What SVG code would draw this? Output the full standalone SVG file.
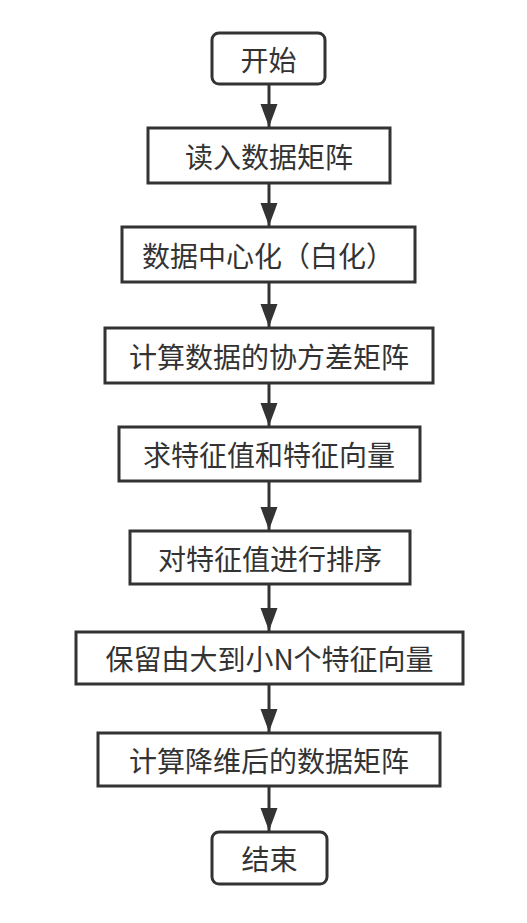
<svg xmlns="http://www.w3.org/2000/svg" width="527" height="923" viewBox="0 0 527 923">
<style>
.box{fill:#fff;stroke:#333;stroke-width:3}
.t{font-family:"Noto Sans CJK SC","Liberation Sans",sans-serif;font-size:28px;fill:#333;text-anchor:middle;dominant-baseline:central}
.c{stroke:#333;stroke-width:3;fill:none;marker-end:url(#ah)}
</style>
<defs>
<marker id="ah" markerUnits="userSpaceOnUse" markerWidth="24" markerHeight="20" viewBox="0 0 24 20" refX="23" refY="10" orient="auto">
<path d="M0,1.5 L23,10 L0,18.5 Z" fill="#333"/>
</marker>
</defs>
<rect width="527" height="923" fill="#fff"/>
<g id="start"><rect class="box" x="212" y="33" width="113" height="51" rx="7"/><text class="t" x="268.5" y="58.5">开始</text></g>
<g id="n1"><rect class="box" x="148" y="128" width="242" height="55"/><text class="t" x="269" y="155.5">读入数据矩阵</text></g>
<g id="n2"><rect class="box" x="122" y="227" width="293" height="55"/><text class="t" x="268" y="254.5">数据中心化（白化）</text></g>
<g id="n3"><rect class="box" x="105" y="328" width="328" height="55"/><text class="t" x="269" y="355.5">计算数据的协方差矩阵</text></g>
<g id="n4"><rect class="box" x="119" y="427" width="301" height="54"/><text class="t" x="269" y="454">求特征值和特征向量</text></g>
<g id="n5"><rect class="box" x="130" y="531" width="280" height="53"/><text class="t" x="270" y="557.5">对特征值进行排序</text></g>
<g id="n6"><rect class="box" x="76" y="632" width="387" height="52"/><text class="t" x="269.5" y="658">保留由大到小N个特征向量</text></g>
<g id="n7"><rect class="box" x="98" y="733" width="342" height="53"/><text class="t" x="269" y="759.5">计算降维后的数据矩阵</text></g>
<g id="end"><rect class="box" x="212" y="832" width="115" height="52" rx="7"/><text class="t" x="269.5" y="858">结束</text></g>
<g id="connectors">
<line class="c" x1="269" y1="84" x2="269" y2="127"/>
<line class="c" x1="269" y1="183" x2="269" y2="226"/>
<line class="c" x1="269" y1="282" x2="269" y2="327"/>
<line class="c" x1="269" y1="383" x2="269" y2="426"/>
<line class="c" x1="269" y1="481" x2="269" y2="530"/>
<line class="c" x1="269" y1="584" x2="269" y2="631"/>
<line class="c" x1="269" y1="684" x2="269" y2="732"/>
<line class="c" x1="269" y1="786" x2="269" y2="831"/>
</g>
</svg>
